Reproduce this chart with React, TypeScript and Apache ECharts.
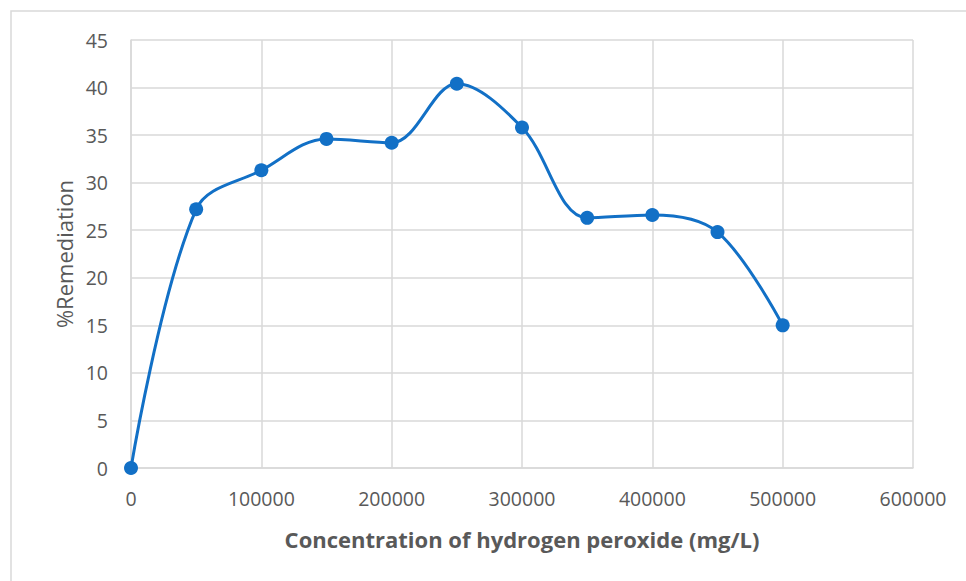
import React, { useEffect, useRef } from "react";
import * as echarts from "echarts";

const concentrations = [0, 50000, 100000, 150000, 200000, 250000, 300000, 350000, 400000, 450000, 500000];
const remediation = [0, 27.2, 31.3, 34.6, 34.2, 40.4, 35.8, 26.3, 26.6, 24.8, 15.0];
const xTitle = "Concentration of hydrogen peroxide (mg/L)";
const yTitle = "%Remediation";

export default function App() {
  const ref = useRef<HTMLDivElement>(null);
  useEffect(() => {
    document.body.style.margin = "0";
    const chart = echarts.init(ref.current!, null, { renderer: "svg" });
    const font = "'Open Sans', 'Liberation Sans', sans-serif";
    chart.setOption({
      animation: false,
      backgroundColor: "#ffffff",
      graphic: [
        {
          type: "rect",
          shape: { x: 11, y: 11, width: 970, height: 600 },
          style: { fill: "none", stroke: "#d9d9d9", lineWidth: 1.5 },
          silent: true,
        },
      ],
      grid: { left: 131, right: 53, top: 40, bottom: 113 },
      xAxis: {
        type: "value",
        min: 0,
        max: 600000,
        interval: 100000,
        name: xTitle,
        nameLocation: "middle",
        nameGap: 60,
        nameTextStyle: { fontFamily: font, fontSize: 22, fontWeight: "bold", color: "#595959" },
        axisLine: { show: true, lineStyle: { color: "#d9d9d9", width: 1.5 } },
        axisTick: { show: false },
        axisLabel: { fontFamily: font, fontSize: 19.5, color: "#595959", margin: 20, formatter: (v: number) => String(v) },
        splitLine: { show: true, lineStyle: { color: "#d9d9d9", width: 1.5 } },
      },
      yAxis: {
        type: "value",
        min: 0,
        max: 45,
        interval: 5,
        name: yTitle,
        nameLocation: "middle",
        nameGap: 55,
        nameTextStyle: { fontFamily: font, fontSize: 22, color: "#595959" },
        axisLine: { show: true, lineStyle: { color: "#d9d9d9", width: 1.5 } },
        axisTick: { show: false },
        axisLabel: { fontFamily: font, fontSize: 19.5, color: "#595959", margin: 23 },
        splitLine: { show: true, lineStyle: { color: "#d9d9d9", width: 1.5 } },
      },
      series: [
        {
          type: "line",
          data: concentrations.map((c, i) => [c, remediation[i]]),
          smooth: 0.35,
          symbol: "circle",
          symbolSize: 14,
          itemStyle: { color: "#1270c6" },
          lineStyle: { color: "#1270c6", width: 3 },
        },
      ],
    });
    return () => chart.dispose();
  }, []);
  return <div ref={ref} style={{ width: 966, height: 581 }} />;
}
